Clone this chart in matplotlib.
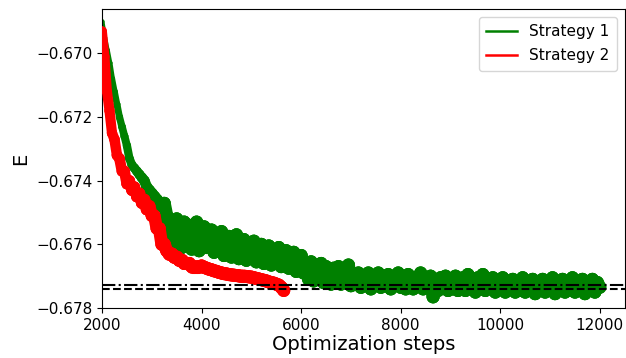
import numpy as np
import matplotlib
matplotlib.use("Agg")
import matplotlib.pyplot as plt
from matplotlib.lines import Line2D
from matplotlib.collections import LineCollection

# Energy traces sampled every 50 optimization steps
strategy1_steps = np.arange(2000, 12001, 50)
strategy1_E = [
    -0.6690, -0.6695, -0.6699, -0.6703, -0.6708, -0.6712, -0.6716, -0.6720, -0.6723, -0.6726,
    -0.6729, -0.6733, -0.6735, -0.6736, -0.6737, -0.6738, -0.6739, -0.6740, -0.6742, -0.6743,
    -0.6744, -0.6745, -0.6746, -0.6747, -0.6748, -0.67471, -0.67510, -0.67590, -0.67545, -0.67600,
    -0.67520, -0.67575, -0.67610, -0.67530, -0.67585, -0.67540, -0.67615, -0.67560, -0.67530, -0.67620,
    -0.67575, -0.67545, -0.67610, -0.67585, -0.67555, -0.67625, -0.67570, -0.67600, -0.67560, -0.67635,
    -0.67590, -0.67575, -0.67640, -0.67600, -0.67570, -0.67645, -0.67610, -0.67585, -0.67650, -0.67600,
    -0.67620, -0.67590, -0.67655, -0.67615, -0.67600, -0.67660, -0.67625, -0.67605, -0.67665, -0.67620,
    -0.67640, -0.67610, -0.67670, -0.67630, -0.67620, -0.67675, -0.67640, -0.67625, -0.67685, -0.67645,
    -0.67635, -0.67690, -0.67660, -0.67710, -0.67655, -0.67715, -0.67680, -0.67700, -0.67660, -0.67720,
    -0.67670, -0.67705, -0.67725, -0.67675, -0.67710, -0.67670, -0.67725, -0.67690, -0.67715, -0.67665,
    -0.67730, -0.67695, -0.67720, -0.67690, -0.67735, -0.67700, -0.67725, -0.67690, -0.67740, -0.67705,
    -0.67720, -0.67690, -0.67735, -0.67700, -0.67730, -0.67695, -0.67740, -0.67705, -0.67725, -0.67690,
    -0.67735, -0.67710, -0.67740, -0.67695, -0.67720, -0.67740, -0.67705, -0.67730, -0.67690, -0.67740,
    -0.67710, -0.67735, -0.67700, -0.67765, -0.67720, -0.67745, -0.67705, -0.67735, -0.67700, -0.67745,
    -0.67715, -0.67740, -0.67700, -0.67745, -0.67720, -0.67705, -0.67745, -0.67695, -0.67735, -0.67715,
    -0.67750, -0.67705, -0.67740, -0.67695, -0.67745, -0.67715, -0.67735, -0.67705, -0.67750, -0.67720,
    -0.67740, -0.67705, -0.67750, -0.67715, -0.67740, -0.67710, -0.67750, -0.67720, -0.67745, -0.67705,
    -0.67750, -0.67725, -0.67745, -0.67710, -0.67755, -0.67720, -0.67745, -0.67710, -0.67750, -0.67715,
    -0.67740, -0.67705, -0.67755, -0.67720, -0.67745, -0.67710, -0.67750, -0.67715, -0.67740, -0.67705,
    -0.67750, -0.67720, -0.67745, -0.67710, -0.67755, -0.67720, -0.67745, -0.67710, -0.67750, -0.67720,
    -0.67735,
]

strategy2_steps = np.arange(2000, 5651, 50)
strategy2_E = [
    -0.6693, -0.6701, -0.6712, -0.6718, -0.6725, -0.6727, -0.6732, -0.6733, -0.6737, -0.6737,
    -0.6741, -0.6740, -0.6743, -0.6742, -0.6745, -0.6744, -0.6747, -0.6746, -0.6749, -0.6748,
    -0.6751, -0.6751, -0.6755, -0.6755, -0.6760, -0.6760, -0.6762, -0.6763, -0.6763, -0.6764,
    -0.6764, -0.6765, -0.6765, -0.6766, -0.6766, -0.6766, -0.6767, -0.6767, -0.6767, -0.6767,
    -0.67668, -0.67672, -0.67675, -0.67678, -0.67680, -0.67683, -0.67685, -0.67688, -0.67690, -0.67692,
    -0.67693, -0.67695, -0.67696, -0.67697, -0.67698, -0.67699, -0.67700, -0.67700, -0.67701, -0.67702,
    -0.67703, -0.67705, -0.67707, -0.67709, -0.67711, -0.67713, -0.67715, -0.67718, -0.67720, -0.67722,
    -0.67725, -0.67728, -0.67735, -0.67745,
]

# Reference energies
ref_dashdot = -0.67729
ref_dashed = -0.67740

labels = ["Strategy 1", "Strategy 2"]
colors = ["green", "red"]


def marker_diameters(steps, d0, d1=9.4, ramp=1250.0):
    # markers grow over the first part of the run (points)
    t = np.clip((np.asarray(steps, dtype=float) - 2000) / ramp, 0, 1)
    return d0 + (d1 - d0) * t


def draw_trace(ax, steps, energies, color, d0, z):
    steps = np.asarray(steps, dtype=float)
    energies = np.asarray(energies, dtype=float)
    d = marker_diameters(steps, d0)
    pts = np.column_stack([steps, energies])
    segs = np.stack([pts[:-1], pts[1:]], axis=1)
    widths = 0.5 * (d[:-1] + d[1:])
    lc = LineCollection(segs, linewidths=widths, colors=color,
                        capstyle="round", joinstyle="round", zorder=z)
    ax.add_collection(lc)
    ax.scatter(steps, energies, s=d ** 2, color=color,
               edgecolors="none", zorder=z)


fig = plt.figure(figsize=(6.26, 3.58), dpi=100)
ax = fig.add_axes([0.163, 0.1397, 0.835, 0.8353])

draw_trace(ax, strategy1_steps, strategy1_E, colors[0], 3.5, 2)
draw_trace(ax, strategy2_steps, strategy2_E, colors[1], 7.0, 3)

ax.axhline(ref_dashdot, color="black", linestyle="-.", linewidth=1.5, zorder=4)
ax.axhline(ref_dashed, color="black", linestyle="--", linewidth=1.5, zorder=4)

ax.set_xlim(2000, 12500)
ax.set_ylim(-0.678, -0.6686)
ax.set_xticks([2000, 4000, 6000, 8000, 10000, 12000])
ax.set_yticks([-0.678, -0.676, -0.674, -0.672, -0.670])
ax.tick_params(labelsize=11)

ax.set_xlabel("Optimization steps", fontsize=14, labelpad=2)
ax.set_ylabel("E", fontsize=14)

handles = [Line2D([], [], color=c, linewidth=1.8) for c in colors]
ax.legend(handles, labels, loc="upper right", fontsize=11, borderpad=0.5,
          labelspacing=0.6)

fig.savefig("out.png", dpi=100)
